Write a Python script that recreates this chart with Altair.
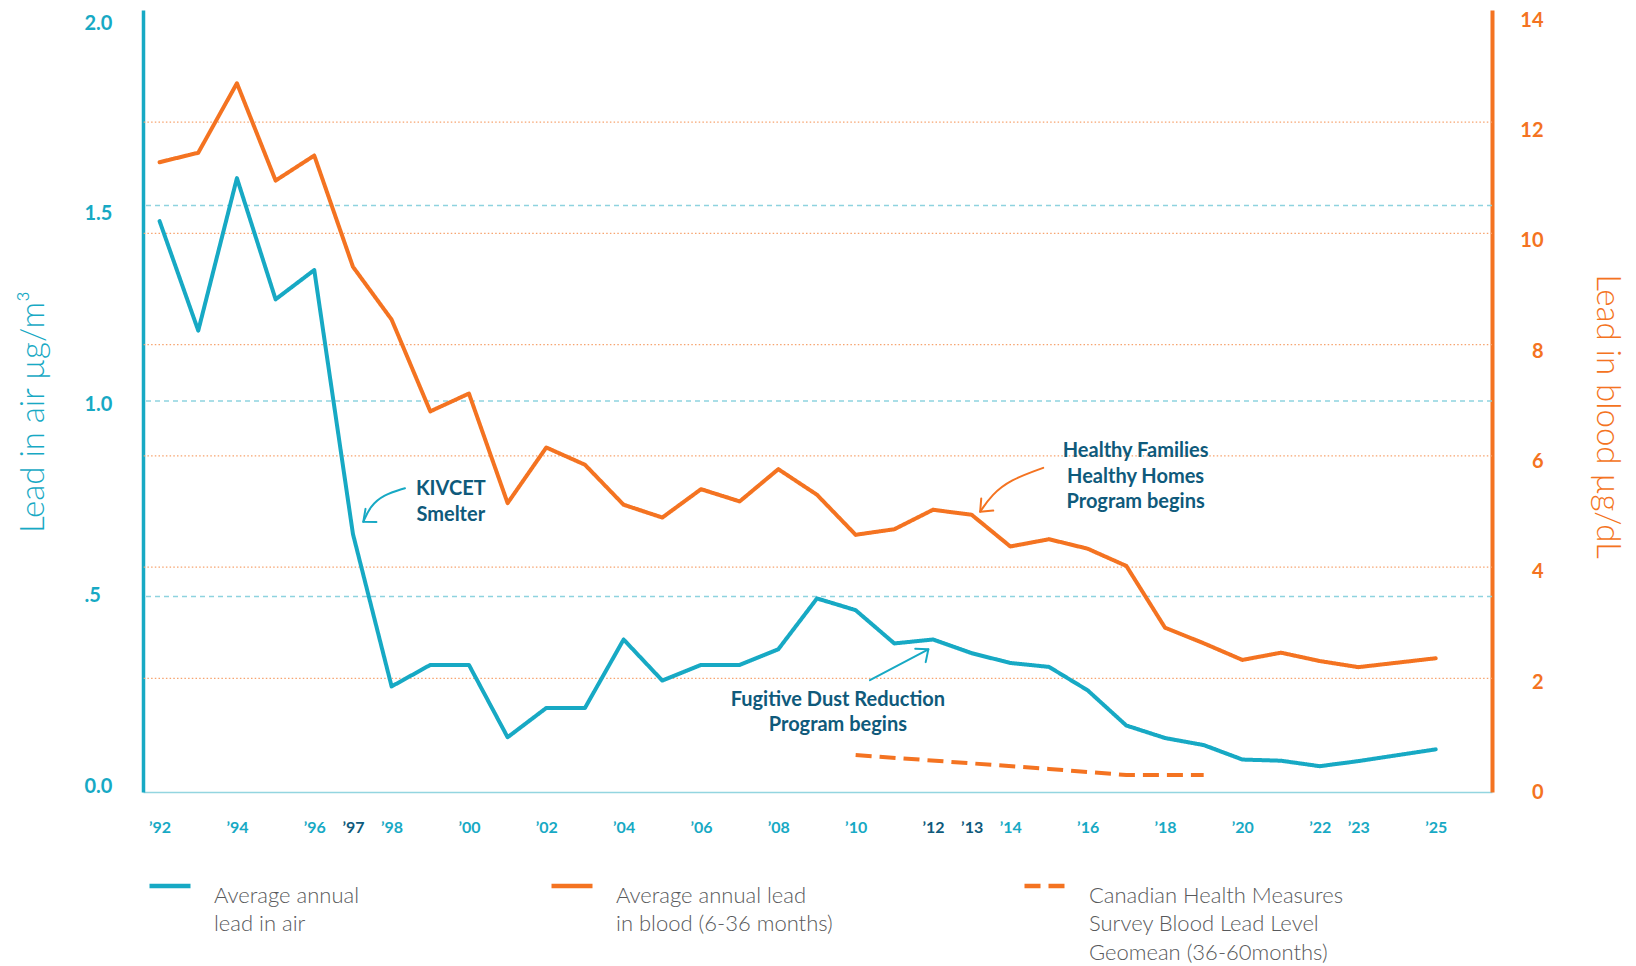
import altair as alt
import pandas as pd

# ---------------- data ----------------
years = list(range(1992, 2026))
air_values = [1.46, 1.18, 1.57, 1.26, 1.335, 0.66, 0.27, 0.325, 0.325, 0.14,
              0.215, 0.215, 0.39, 0.285, 0.325, 0.325, 0.365, 0.495, 0.465, 0.38,
              0.39, 0.355, 0.33, 0.32, 0.26, 0.17, 0.138, 0.12, 0.083, 0.08,
              0.066, 0.079, 0.094, 0.109]
blood_values = [11.28, 11.45, 12.7, 10.95, 11.4, 9.4, 8.45, 6.8, 7.12, 5.15,
                6.15, 5.84, 5.12, 4.89, 5.4, 5.18, 5.76, 5.3, 4.58, 4.68,
                5.03, 4.94, 4.37, 4.5, 4.33, 4.02, 2.91, 2.63, 2.33, 2.46,
                2.31, 2.2, 2.28, 2.36]
chms_years = [2010, 2013, 2015, 2017, 2019]
chms_values = [0.62, 0.47, 0.37, 0.26, 0.26]

series_names = [
    "Average annual|lead in air| ",
    "Average annual lead|in blood (6-36 months)| ",
    "Canadian Health Measures|Survey Blood Lead Level|Geomean (36-60months)",
]

x_tick_years = [1992, 1994, 1996, 1998, 2000, 2002, 2004, 2006, 2008,
                2010, 2014, 2016, 2018, 2020, 2022, 2023, 2025]
x_highlight_years = [1997, 2012, 2013]
air_ticks = [0, 0.5, 1.0, 1.5, 2.0]
air_grid_values = [0.5, 1.0, 1.5]
blood_ticks = [0, 2, 4, 6, 8, 10, 12, 14]
blood_grid_values = [2, 4, 6, 8, 10, 12]

note_texts = ["KIVCET\nSmelter",
              "Fugitive Dust Reduction\nProgram begins",
              "Healthy Families\nHealthy Homes\nProgram begins"]
note_years = [1999.53, 2009.54, 2017.24]
note_air = [0.7742, 0.2361, 0.8714]

arrow_ids = ["k", "k", "k", "k", "f", "f", "h", "h", "h", "h"]
arrow_order = [0, 1, 2, 3, 0, 1, 0, 1, 2, 3]
arrow_years = [1998.346, 1997.785, 1997.441, 1997.268, 2010.37, 2011.88,
               2014.85, 2013.99, 2013.52, 2013.22]
arrow_air = [0.777, 0.760, 0.730, 0.691, 0.286, 0.365, 0.829, 0.798, 0.760, 0.717]

head_ids = ["k", "f", "h"]
head_years = [1997.268, 2011.88, 2013.22]
head_air = [0.691, 0.365, 0.717]
head_angles = [140, 322, 135]

# ---------------- styles ----------------
CYAN = "#17A9C4"
ORANGE = "#F47321"
NAVY = "#0F5A7B"
GRID_CYAN = "#8ED3DF"
GRID_ORANGE = "#F7A46F"
BASE = "#93D5E0"
LEGEND_TEXT = "#58595B"
FONT = "Lato"
arrow_colors = {"k": CYAN, "f": CYAN, "h": ORANGE}

air_df = pd.DataFrame({"year": years, "value": air_values, "series": series_names[0]})
blood_df = pd.DataFrame({"year": years, "value": blood_values, "series": series_names[1]})
chms_df = pd.DataFrame({"year": chms_years, "value": chms_values, "series": series_names[2]})
notes_df = pd.DataFrame({"year": note_years, "air": note_air, "text": note_texts})
arrow_df = pd.DataFrame({"id": arrow_ids, "i": arrow_order, "year": arrow_years,
                         "air": arrow_air, "color": [arrow_colors[a] for a in arrow_ids]})
head_df = pd.DataFrame({"id": head_ids, "year": head_years, "air": head_air,
                        "angle": head_angles, "color": [arrow_colors[a] for a in head_ids]})
air_grid_df = pd.DataFrame({"v": air_grid_values})
blood_grid_df = pd.DataFrame({"v": blood_grid_values})

x_scale = alt.Scale(domain=[1991.571, 2026.456], nice=False, zero=False)
air_scale = alt.Scale(domain=[0, 2], nice=False, zero=False)
blood_scale = alt.Scale(domain=[-0.045, 14.017], nice=False, zero=False)
color_scale = alt.Scale(domain=series_names, range=[CYAN, ORANGE, ORANGE])
dash_scale = alt.Scale(domain=series_names, range=[[1, 0], [1, 0], [16, 8]])

x_axis = alt.Axis(
    orient="bottom", values=x_tick_years, format="d",
    labelExpr="'\u2019' + substring(datum.label, 2)",
    labelFont=FONT, labelFontWeight="bold", labelFontSize=16, labelColor=CYAN,
    labelPadding=35, labelBaseline="middle", labelFlush=False, labelOverlap=False,
    ticks=False, grid=False, domainColor=BASE, domainWidth=1.5, title=None,
)
x_axis_highlight = alt.Axis(
    orient="bottom", values=x_highlight_years, format="d",
    labelExpr="'\u2019' + substring(datum.label, 2)",
    labelFont=FONT, labelFontWeight="bold", labelFontSize=16, labelColor=NAVY,
    labelPadding=35, labelBaseline="middle", labelFlush=False, labelOverlap=False,
    ticks=False, grid=False, domain=False, title=None,
)

air_axis = alt.Axis(
    orient="left", values=air_ticks,
    labelExpr="datum.value == 0.5 ? '.5' : format(datum.value, '.1f')",
    labelFont=FONT, labelFontWeight="bold", labelFontSize=20, labelColor=CYAN,
    labelAlign="left", labelBaseline="middle", labelPadding=59,
    labelFlush=False, labelOverlap=False,
    labelOffset={"expr": "-6 + 9.5 * datum.value"},
    ticks=False, domainColor=CYAN, domainWidth=3.5, grid=False,
    title="Lead in air  µg/m³", titleFont=FONT, titleFontWeight=300, titleFontSize=33,
    titleColor=CYAN, titleAngle=270, titleX=-100, titleY=401.5,
    titleAlign="center", titleBaseline="alphabetic",
)

blood_axis = alt.Axis(
    orient="right", values=blood_ticks, format="d",
    labelFont=FONT, labelFontWeight="bold", labelFontSize=20, labelColor=ORANGE,
    labelAlign="right", labelBaseline="middle", labelPadding=51,
    labelFlush=False, labelOverlap=False,
    labelOffset={"expr": "3 + 0.45 * datum.value"},
    ticks=False, domainColor=ORANGE, domainWidth=4, grid=False,
    title="Lead in blood  µg/dL", titleFont=FONT, titleFontWeight=300, titleFontSize=33,
    titleColor=ORANGE, titleAngle=90, titleX=104, titleY=406,
    titleAlign="center", titleBaseline="alphabetic",
)

legend = alt.Legend(
    orient="none", legendX=4, legendY=852.8, direction="horizontal", columns=3,
    columnPadding=182, rowPadding=0, padding=0, gridAlign="each",
    symbolType="stroke", symbolSize=1681, symbolStrokeWidth=4.5,
    labelFont=FONT, labelFontWeight=300, labelFontSize=22, labelColor=LEGEND_TEXT,
    labelOffset=21, labelBaseline="top", labelLimit=600,
    labelExpr="split(datum.label, '|')", title=None,
)

color_enc = alt.Color("series:N", scale=color_scale, legend=legend)
dash_enc = alt.StrokeDash("series:N", scale=dash_scale, legend=legend)

air_grid = alt.Chart(air_grid_df).mark_rule(
    color=GRID_CYAN, strokeWidth=1.5, strokeDash=[5, 4]
).encode(y=alt.Y("v:Q", scale=air_scale, axis=None))

blood_grid = alt.Chart(blood_grid_df).mark_rule(
    color=GRID_ORANGE, strokeWidth=1.3, strokeDash=[1.5, 2.2]
).encode(y=alt.Y("v:Q", scale=blood_scale, axis=None))

air_line = alt.Chart(air_df).mark_line(
    interpolate="linear", strokeWidth=4, strokeJoin="round", strokeCap="round"
).encode(
    x=alt.X("year:Q", scale=x_scale, axis=x_axis),
    y=alt.Y("value:Q", scale=air_scale, axis=air_axis),
    color=color_enc, strokeDash=dash_enc,
)

blood_line = alt.Chart(blood_df).mark_line(
    interpolate="linear", strokeWidth=4, strokeJoin="round", strokeCap="round"
).encode(
    x=alt.X("year:Q", scale=x_scale, axis=None),
    y=alt.Y("value:Q", scale=blood_scale, axis=blood_axis),
    color=color_enc, strokeDash=dash_enc,
)

chms_line = alt.Chart(chms_df).mark_line(strokeWidth=4, strokeCap="butt").encode(
    x=alt.X("year:Q", scale=x_scale, axis=None),
    y=alt.Y("value:Q", scale=blood_scale, axis=None),
    color=color_enc, strokeDash=dash_enc,
)

arrows = alt.Chart(arrow_df).mark_line(
    interpolate="basis", strokeWidth=2, strokeCap="round"
).encode(
    x=alt.X("year:Q", scale=x_scale, axis=None),
    y=alt.Y("air:Q", scale=air_scale, axis=None),
    detail="id:N", order="i:Q",
    stroke=alt.Stroke("color:N", scale=None),
)

heads = alt.Chart(head_df).mark_point(
    shape="M -1 -0.85 L 0 0 L -1 0.85", filled=False, size=400,
    strokeWidth=2, opacity=1, strokeCap="round", strokeJoin="round"
).encode(
    x=alt.X("year:Q", scale=x_scale, axis=x_axis_highlight),
    y=alt.Y("air:Q", scale=air_scale, axis=None),
    angle=alt.Angle("angle:Q", scale=None),
    stroke=alt.Stroke("color:N", scale=None),
)

notes = alt.Chart(notes_df).mark_text(
    font=FONT, fontWeight="bold", fontSize=20, color=NAVY, lineBreak="\n",
    lineHeight=25.5, align="center", baseline="middle"
).encode(
    x=alt.X("year:Q", scale=x_scale, axis=None),
    y=alt.Y("air:Q", scale=air_scale, axis=None),
    text="text:N",
)

chart = alt.layer(
    air_grid, blood_grid, air_line, blood_line, chms_line, arrows, heads, notes
).resolve_scale(y="independent").resolve_axis(x="independent").properties(
    width=1349, height=782,
    autosize=alt.AutoSizeParams(type="none"),
    padding={"left": 135, "top": 2, "right": 136, "bottom": 174},
    background="white",
).configure(
    font=FONT, style={"guide-label": {"lineHeight": 28.3}}
).configure_view(stroke=None)

chart.save("out.html", embed_options={"renderer": "svg", "actions": False})
